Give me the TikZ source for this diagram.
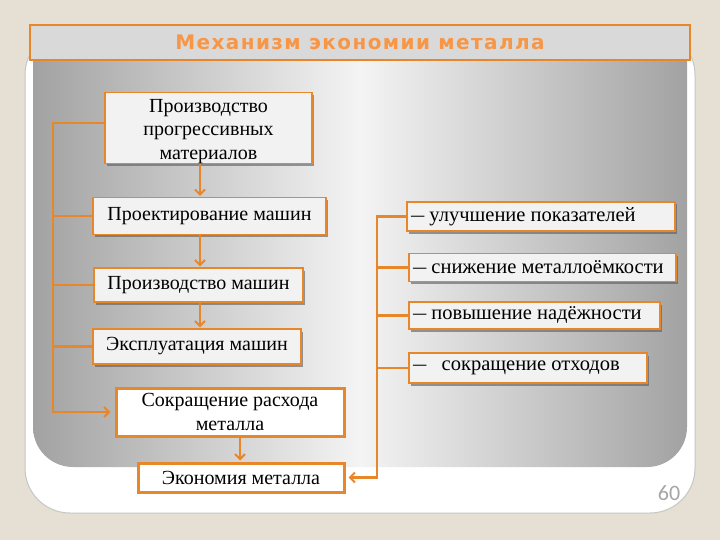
\documentclass[tikz,border=0pt]{standalone}
\usepackage{fontspec}
\usepackage{graphicx}
\setmainfont{Liberation Serif}
\newfontfamily\titlefont[LetterSpace=7]{DejaVu Sans}
\newfontfamily\numfont{Carlito}
\usetikzlibrary{arrows.meta,shadows}
\definecolor{bgbeige}{HTML}{E6E0D4}
\definecolor{orln}{HTML}{E8862A}
\definecolor{ortitle}{HTML}{F79646}
\definecolor{boxfill}{HTML}{F2F2F2}
\definecolor{panelgray}{HTML}{A2A2A2}
\definecolor{panelmid}{HTML}{F4F4F4}
\definecolor{titlegray}{HTML}{D9D9D9}
\definecolor{numgray}{HTML}{A6A6A6}
\newcommand\shortdash{\scalebox{0.65}[1]{—}}
\tikzset{
  lightbox/.style={draw=orln, line width=1.2pt, fill=boxfill, align=center, inner sep=0pt,
    font=\fontsize{20}{23.5}\selectfont,
    drop shadow={shadow xshift=2pt, shadow yshift=-2.5pt, fill=gray!70!black, opacity=0.6}},
  rightbox/.style={lightbox, font=\fontsize{20.5}{23}\selectfont, align=flush left,
    inner xsep=4pt, text width=#1-8pt, minimum width=#1},
  thickbox/.style={draw=orln, line width=3pt, fill=white, align=center, inner sep=0pt,
    font=\fontsize{20}{24}\selectfont},
  conn/.style={draw=orln, line width=2.2pt},
  tip/.style={-{Straight Barb[length=5pt,width=10pt,line width=2pt]}},
}
\begin{document}
\begin{tikzpicture}[x=1pt,y=-1pt]
\useasboundingbox (0,0) rectangle (720,540);
\fill[bgbeige] (0,0) rectangle (720,540);
\draw[fill=white, draw=gray!45, line width=1pt, rounded corners=45pt] (25,30) rectangle (695,513);
\shade[left color=panelgray, right color=panelgray, middle color=panelmid]
  (33,58) -- (33,100) [rounded corners=40pt] -- (33,467) -- (687,467) -- (687,100) [sharp corners] -- (687,58) -- cycle;
\node[draw=orln, line width=1.5pt, fill=titlegray, minimum width=660pt, minimum height=35pt,
  text=ortitle, font=\titlefont\bfseries\fontsize{20}{22}\selectfont] (title) at (360,42.5) {Механизм экономии металла};

\node[lightbox, minimum width=207pt, minimum height=68pt] (b1) at (208.5,128) {\rule{0pt}{20pt}Производство\\прогрессивных\\материалов};
\node[lightbox, minimum width=233pt, minimum height=37pt] (b2) at (209.5,216) {Проектирование машин};
\node[lightbox, minimum width=209pt, minimum height=34pt] (b3) at (198.5,285) {Производство машин};
\node[lightbox, minimum width=208pt, minimum height=35pt] (b4) at (197,346.5) {Эксплуатация машин};
\node[thickbox, minimum width=228pt, minimum height=48pt] (b5) at (230,412) {Сокращение расхода\\металла};
\node[thickbox, minimum width=206pt, minimum height=29pt] (b6) at (241,477.5) {Экономия металла};

\node[rightbox=268pt, minimum height=29pt] (b7) at (541,216.5) {\shortdash{} улучшение показателей};
\node[rightbox=267pt, minimum height=28pt] (b8) at (542.5,267.5) {\shortdash{} снижение металлоёмкости};
\node[rightbox=251pt, minimum height=27pt] (b9) at (534.5,315.5) {\shortdash{} повышение надёжности};
\node[rightbox=238pt, minimum height=30pt] (b10) at (528,368) {\shortdash\ \ \ сокращение отходов};

\coordinate (lb) at (53,0);
\coordinate (rb) at (377,0);
\coordinate (ax) at (200,0);
\coordinate (bx) at (240,0);

\draw[conn, tip, shorten >=4pt] ([yshift=5pt]b1.west) -- ([yshift=5pt]b1.west -| lb) |- (b5.west);
\draw[conn] (b2.west) -- (b2.west -| lb);
\draw[conn] (b3.west) -- (b3.west -| lb);
\draw[conn] (b4.west) -- (b4.west -| lb);

\draw[conn, tip, shorten >=3pt] (b7.west) -- (b7.west -| rb) |- (b6.east);
\draw[conn] (b8.west) -- (b8.west -| rb);
\draw[conn] (b9.west) -- (b9.west -| rb);
\draw[conn] (b10.west) -- (b10.west -| rb);

\draw[conn, tip, shorten >=1pt] (b1.south -| ax) -- (b2.north -| ax);
\draw[conn, tip, shorten >=1pt] (b2.south -| ax) -- (b3.north -| ax);
\draw[conn, tip, shorten >=1pt] (b3.south -| ax) -- (b4.north -| ax);
\draw[conn, tip, shorten >=1pt] (b5.south -| bx) -- (b6.north -| bx);

\node[text=numgray, font=\numfont\fontsize{22}{24}\selectfont] (pg) at (669,493) {60};
\end{tikzpicture}
\end{document}
